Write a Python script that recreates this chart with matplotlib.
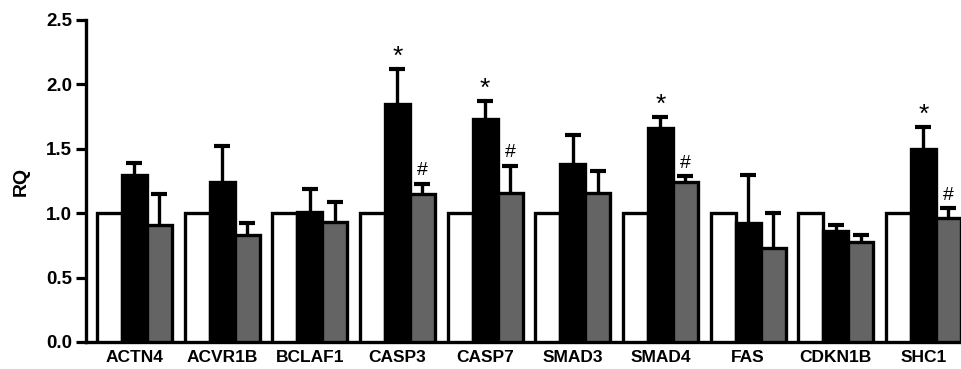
import numpy as np
import matplotlib
matplotlib.use("Agg")
import matplotlib.pyplot as plt

plt.rcParams["font.family"] = ["Liberation Sans", "DejaVu Sans"]
plt.rcParams["font.weight"] = "bold"

genes = ["ACTN4", "ACVR1B", "BCLAF1", "CASP3", "CASP7",
         "SMAD3", "SMAD4", "FAS", "CDKN1B", "SHC1"]

# control (white), treatment (black), treatment + inhibitor (grey)
control = [1.0] * 10
black_vals = [1.30, 1.24, 1.01, 1.85, 1.73, 1.38, 1.66, 0.92, 0.86, 1.50]
black_err = [0.09, 0.28, 0.18, 0.27, 0.14, 0.23, 0.09, 0.38, 0.05, 0.17]
grey_vals = [0.91, 0.83, 0.93, 1.15, 1.16, 1.16, 1.24, 0.73, 0.78, 0.96]
grey_err = [0.24, 0.09, 0.16, 0.08, 0.21, 0.17, 0.05, 0.27, 0.05, 0.08]

star_on_black = [False, False, False, True, True, False, True, False, False, True]
hash_on_grey = [False, False, False, True, True, False, True, False, False, True]

COLOR_GREY = "#646464"
LW = 2.4

fig = plt.figure(figsize=(9.62, 3.69), dpi=100)
ax = fig.add_axes([0.0894, 0.0732, 0.9106, 0.8726])

x = np.arange(len(genes))
w = 0.285
series = [(control, None, "white", -w),
          (black_vals, black_err, "black", 0.0),
          (grey_vals, grey_err, COLOR_GREY, w)]

for vals, errs, color, off in series:
    ax.bar(x + off, vals, width=w, color=color, edgecolor="black",
           linewidth=LW, zorder=3)
    if errs is not None:
        # upper-only error bars: stem from the bar top plus a cap
        tops = np.array(vals) + np.array(errs)
        ax.vlines(x + off, vals, tops, color="black", linewidth=LW, zorder=2)
        ax.plot(x + off, tops, linestyle="none", marker="_", markersize=12,
                markeredgewidth=3.0, color="black", zorder=2)

for i in range(len(genes)):
    if star_on_black[i]:
        ax.annotate("*", (x[i], black_vals[i] + black_err[i]), xytext=(0, 0),
                    textcoords="offset points", ha="center", va="bottom",
                    fontsize=19, fontweight="normal")
    if hash_on_grey[i]:
        ax.annotate("#", (x[i] + w, grey_vals[i] + grey_err[i]), xytext=(0, 3),
                    textcoords="offset points", ha="center", va="bottom",
                    fontsize=14, fontweight="normal")

ax.set_xlim(-0.553, 9.44)
ax.set_ylim(0, 2.5)
ax.set_yticks([0.0, 0.5, 1.0, 1.5, 2.0, 2.5])
ax.set_yticklabels([f"{t:.1f}" for t in [0.0, 0.5, 1.0, 1.5, 2.0, 2.5]])
ax.set_xticks(x)
ax.set_xticklabels(genes)
ax.tick_params(axis="x", length=0, labelsize=12.5, pad=6)
ax.tick_params(axis="y", length=7, width=2.3, labelsize=13.5, pad=3)
ax.set_ylabel("RQ", fontsize=14, fontweight="bold", labelpad=12)

for s in ["top", "right"]:
    ax.spines[s].set_visible(False)
for s in ["left", "bottom"]:
    ax.spines[s].set_linewidth(2.4)

fig.savefig("out.png", dpi=100)
